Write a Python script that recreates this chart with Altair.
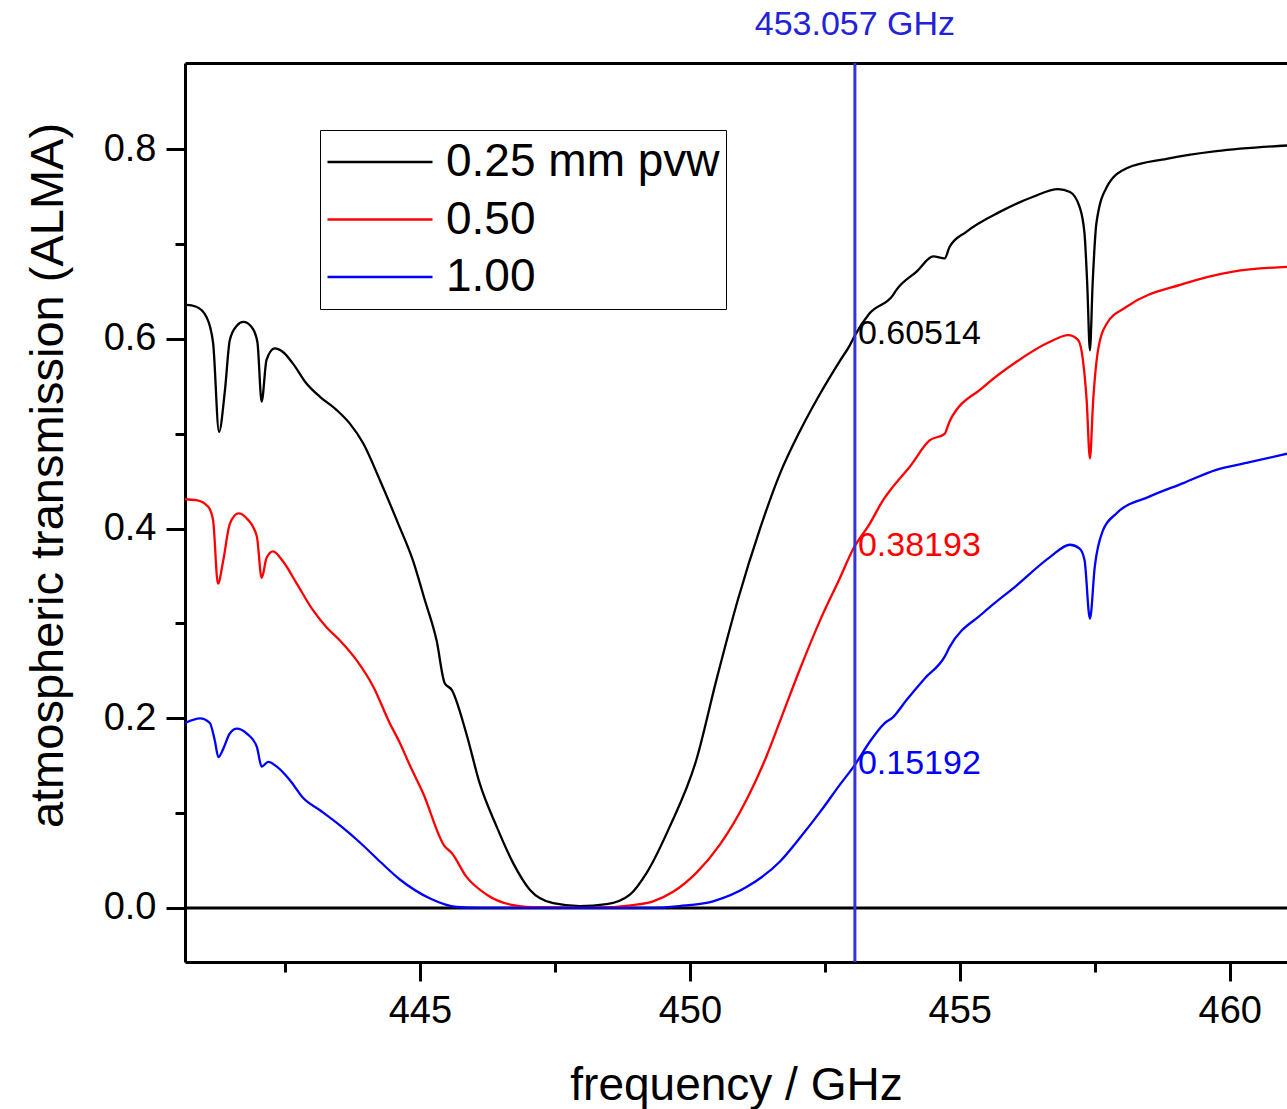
import altair as alt
import pandas as pd

FONT = "Liberation Sans"

# ---------------- data ----------------
series_names = ["0.25 mm pvw", "0.50", "1.00"]
series_colors = ["#000000", "#ff0000", "#0000ff"]

freq_025 = [440.65, 440.68, 440.86, 441.05, 441.17, 441.28, 441.39, 441.48, 441.61, 441.73,
            441.88, 441.99, 442.07, 442.16, 442.31, 442.47, 442.65, 442.90, 443.15, 443.46,
            443.70, 443.95, 444.26, 444.60, 444.88, 445.09, 445.31, 445.46, 445.59, 445.86,
            446.11, 446.42, 446.73, 447.04, 447.47, 447.96, 448.46, 448.89, 449.20, 449.63,
            450.12, 450.49, 450.89, 451.30, 451.67, 452.04, 452.41, 452.78, 452.96, 453.06,
            453.33, 453.76, 453.83, 454.20, 454.51, 454.72, 454.81, 455.12, 455.74, 456.36,
            456.82, 457.04, 457.22, 457.31, 457.36, 457.41, 457.46, 457.53, 457.72, 458.09,
            458.83, 459.75, 461.06]
trans_025 = [0.636, 0.636, 0.634, 0.623, 0.596, 0.502, 0.546, 0.599, 0.614, 0.618,
             0.613, 0.597, 0.534, 0.578, 0.590, 0.586, 0.574, 0.553, 0.539, 0.525,
             0.511, 0.490, 0.451, 0.405, 0.365, 0.325, 0.282, 0.237, 0.230, 0.184,
             0.131, 0.086, 0.047, 0.019, 0.005, 0.002, 0.004, 0.014, 0.037, 0.086,
             0.156, 0.240, 0.325, 0.400, 0.458, 0.503, 0.542, 0.577, 0.593, 0.604,
             0.627, 0.646, 0.652, 0.671, 0.687, 0.685, 0.697, 0.713, 0.734, 0.750,
             0.758, 0.755, 0.739, 0.711, 0.658, 0.588, 0.658, 0.722, 0.760, 0.780,
             0.790, 0.798, 0.804]

freq_050 = [440.65, 440.86, 441.08, 441.17, 441.26, 441.36, 441.48, 441.64, 441.79, 441.98,
            442.07, 442.16, 442.28, 442.47, 442.72, 443.02, 443.27, 443.52, 443.83, 444.14,
            444.44, 444.63, 444.81, 445.06, 445.46, 445.59, 445.86, 446.24, 446.73, 447.22,
            448.20, 448.95, 449.32, 449.69, 450.12, 450.56, 451.05, 451.42, 451.67, 452.04,
            452.41, 452.78, 453.02, 453.33, 453.58, 453.76, 454.07, 454.44, 454.72, 454.81,
            455.43, 456.05, 456.67, 457.01, 457.19, 457.28, 457.35, 457.41, 457.47, 457.56,
            457.72, 458.09, 459.14, 460.06, 461.06]
trans_050 = [0.431, 0.430, 0.423, 0.409, 0.342, 0.367, 0.405, 0.416, 0.411, 0.392,
             0.348, 0.369, 0.376, 0.365, 0.342, 0.314, 0.296, 0.282, 0.261, 0.233,
             0.195, 0.174, 0.151, 0.121, 0.065, 0.058, 0.033, 0.014, 0.003, 0.0005,
             0.0, 0.003, 0.007, 0.017, 0.037, 0.067, 0.114, 0.160, 0.197, 0.252,
             0.303, 0.348, 0.378, 0.405, 0.430, 0.444, 0.465, 0.493, 0.500, 0.513,
             0.549, 0.576, 0.597, 0.604, 0.599, 0.578, 0.535, 0.474, 0.535, 0.588,
             0.616, 0.634, 0.658, 0.671, 0.676]

freq_100 = [440.65, 440.93, 441.11, 441.20, 441.27, 441.36, 441.48, 441.61, 441.79, 441.98,
            442.07, 442.19, 442.35, 442.59, 442.84, 443.15, 443.52, 443.89, 444.26, 444.63,
            445.19, 445.68, 446.11, 449.26, 449.81, 450.43, 451.05, 451.67, 452.04, 452.41,
            452.78, 453.07, 453.33, 453.61, 453.76, 454.01, 454.35, 454.72, 454.81, 455.43,
            456.05, 456.67, 457.04, 457.22, 457.31, 457.41, 457.50, 457.65, 457.90, 458.52,
            459.14, 459.75, 460.37, 461.06]
trans_100 = [0.195, 0.200, 0.195, 0.177, 0.159, 0.168, 0.184, 0.189, 0.184, 0.170,
             0.149, 0.154, 0.149, 0.135, 0.116, 0.103, 0.087, 0.069, 0.049, 0.030,
             0.010, 0.001, 0.0, 0.0, 0.002, 0.007, 0.022, 0.049, 0.074, 0.101,
             0.130, 0.152, 0.175, 0.195, 0.201, 0.219, 0.242, 0.265, 0.275, 0.311,
             0.340, 0.370, 0.383, 0.379, 0.367, 0.305, 0.360, 0.398, 0.416, 0.434,
             0.448, 0.462, 0.470, 0.479]

marker_freq = 453.057
marker_values = [0.60514, 0.38193, 0.15192]

x_major = [445, 450, 455, 460]
x_minor = [442.5, 447.5, 452.5, 457.5]
y_major = [0.0, 0.2, 0.4, 0.6, 0.8]
y_minor = [0.1, 0.3, 0.5, 0.7]
x_domain = [440.65, 461.06]
y_domain = [-0.057, 0.891]

# ---------------- tables ----------------
frames = []
for name, f, t in zip(series_names, [freq_025, freq_050, freq_100],
                      [trans_025, trans_050, trans_100]):
    frames.append(pd.DataFrame({"freq": f, "trans": t, "series": name}))
df_lines = pd.concat(frames, ignore_index=True)

zero_df = pd.DataFrame({"trans": [0.0]})
marker_df = pd.DataFrame({"freq": [marker_freq], "label": [f"{marker_freq:.3f} GHz"]})
ann_df = pd.DataFrame({
    "freq": [marker_freq] * 3,
    "trans": marker_values,
    "label": [f"{v:.5f}" for v in marker_values],
    "color": series_colors,
})

x_scale = alt.Scale(domain=x_domain, nice=False, zero=False)
y_scale = alt.Scale(domain=y_domain, nice=False, zero=False)

# ---------------- layers ----------------
zero = alt.Chart(zero_df).mark_rule(color="black", strokeWidth=3).encode(
    y=alt.Y("trans:Q", scale=y_scale,
            axis=alt.Axis(orient="left", values=y_minor, tickSize=10,
                          labels=False, domain=False, title=None))
)

lines = alt.Chart(df_lines).mark_line(strokeWidth=2.3, clip=True, interpolate="monotone").encode(
    x=alt.X("freq:Q", scale=x_scale,
            axis=alt.Axis(orient="bottom", values=x_major, format="d", tickSize=19,
                          labelPadding=11, title="frequency / GHz", titleY=137,
                          titleBaseline="alphabetic", titleFontSize=46)),
    y=alt.Y("trans:Q", scale=y_scale,
            axis=alt.Axis(orient="left", values=y_major, format=".1f", tickSize=19,
                          labelPadding=10, title="atmospheric transmission (ALMA)",
                          titleX=-123, titleY=412, titleAngle=270,
                          titleBaseline="alphabetic", titleAlign="center",
                          titleFontSize=47)),
    color=alt.Color("series:N",
                    scale=alt.Scale(domain=series_names, range=series_colors),
                    sort=series_names,
                    legend=alt.Legend(orient="none", legendX=135, legendY=67, title=None,
                                      symbolType="stroke", symbolSize=11025,
                                      symbolStrokeWidth=2.3, clipHeight=52,
                                      rowPadding=5.5, padding=6, labelFontSize=46,
                                      labelFont=FONT, labelOffset=12, labelLimit=600,
                                      labelColor="black", strokeColor="black",
                                      fillColor="white")),
)

vline = alt.Chart(marker_df).mark_rule(color="#3434d6", strokeWidth=3).encode(
    x=alt.X("freq:Q", scale=x_scale,
            axis=alt.Axis(orient="bottom", values=x_minor, tickSize=10,
                          labels=False, domain=False, title=None))
)

ann = alt.Chart(ann_df).mark_text(align="left", baseline="middle", dx=3,
                                   fontSize=34, font=FONT).encode(
    x=alt.X("freq:Q", scale=x_scale,
            axis=alt.Axis(orient="top", labels=False, ticks=False, title=None)),
    y=alt.Y("trans:Q", scale=y_scale, axis=None),
    text="label:N",
    color=alt.Color("color:N", scale=None),
)

top_label = alt.Chart(marker_df).mark_text(color="#2222d8", fontSize=34, font=FONT,
                                           align="center", baseline="middle").encode(
    x=alt.X("freq:Q", scale=x_scale, axis=None),
    y=alt.value(-38),
    text="label:N",
)

chart = (
    alt.layer(zero, lines, vline, ann, top_label)
    .resolve_axis(x="independent", y="independent")
    .properties(
        width=1102,
        height=899,
        padding={"left": 185, "top": 63, "right": 0, "bottom": 147},
        autosize=alt.AutoSizeParams(type="none"),
        background="white",
    )
    .configure_axis(
        grid=False,
        domainColor="black",
        domainWidth=3,
        tickColor="black",
        tickWidth=3,
        labelColor="black",
        labelFont=FONT,
        labelFontSize=38,
        titleFont=FONT,
        titleFontWeight="normal",
        titleColor="black",
    )
    .configure_view(stroke=None)
)

chart.save("out.html", embed_options={"renderer": "svg", "actions": False})
